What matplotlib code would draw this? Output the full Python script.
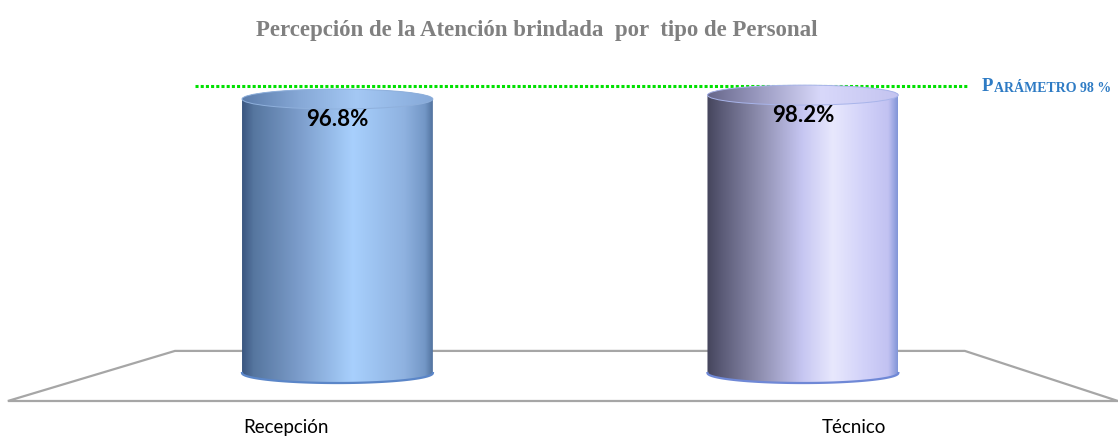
import numpy as np
import matplotlib.pyplot as plt
from matplotlib.path import Path
from matplotlib.patches import PathPatch, Ellipse, Polygon
from matplotlib.colors import to_rgb

categories = ['Recepción', 'Técnico']
values = [96.8, 98.2]
value_labels = ['96.8%', '98.2%']
parametro = 98
title = 'Percepción de la Atención brindada  por  tipo de Personal'

# gradient stops per cylinder (left -> right)
body_stops = [
    [(0.0, '#3a5680'), (0.06, '#56769f'), (0.30, '#7c9dcb'), (0.58, '#a8d0fd'),
     (0.85, '#8fb2e0'), (0.96, '#7397c6'), (1.0, '#52739f')],
    [(0.0, '#45455c'), (0.08, '#5c5c78'), (0.30, '#9494b6'), (0.50, '#c6c6f2'),
     (0.66, '#e8e8fd'), (0.82, '#d2d2f9'), (0.95, '#c2c2f2'), (1.0, '#8296d8')],
]
top_stops = [
    [(0.0, '#5b7cab'), (0.3, '#86a8d6'), (0.6, '#a4c8f4'), (1.0, '#86a9d8')],
    [(0.0, '#66668a'), (0.3, '#a0a0c6'), (0.6, '#d8d8fa'), (1.0, '#c4c4f0')],
]
top_edge = ['#8fb0dc', '#a8b4ea']
edge_cols = ['#5b86c8', '#6f88d6']


def gradient(stops, n=300):
    pos = [p for p, _ in stops]
    cols = np.array([to_rgb(c) for _, c in stops])
    xs = np.linspace(0, 1, n)
    return np.stack([np.interp(xs, pos, cols[:, k]) for k in range(3)], axis=-1)[None, :, :]


fig = plt.figure(figsize=(11.18, 4.37), dpi=100)
ax = fig.add_axes([0, 0, 1, 1])
ax.set_xlim(-0.725, 1.677)
ax.set_ylim(-22.6, 131.8)
ax.axis('off')

bar_w = 0.41
eh = 3.53  # half height of the cylinder ellipses (data units)

# floor
floor = Polygon([(0.007, 0.0824), (0.1565, 0.197), (0.863, 0.197), (1.0, 0.0824)],
                closed=True, fill=False, edgecolor='#a6a6a6', lw=1.6,
                transform=ax.transAxes, zorder=1)
ax.add_patch(floor)

# cylinders
for i, (cat, v) in enumerate(zip(categories, values)):
    cx = i
    hw = bar_w / 2
    t1 = np.linspace(np.pi, 2 * np.pi, 80)
    t2 = np.linspace(0, np.pi, 80)
    xs = np.concatenate([cx + hw * np.cos(t1), cx + hw * np.cos(t2)])
    ys = np.concatenate([eh * np.sin(t1), v + eh * np.sin(t2)])
    verts = np.column_stack([xs, ys])
    verts = np.vstack([verts, verts[:1]])
    codes = [Path.MOVETO] + [Path.LINETO] * (len(verts) - 2) + [Path.CLOSEPOLY]
    shape = PathPatch(Path(verts, codes), facecolor='none', edgecolor='none', zorder=2)
    ax.add_patch(shape)
    im = ax.imshow(gradient(body_stops[i]), extent=[cx - hw, cx + hw, -eh, v + eh],
                   aspect='auto', zorder=2, interpolation='bilinear')
    im.set_clip_path(shape)

    # top face
    top = Ellipse((cx, v), bar_w, 2 * eh, facecolor='none', edgecolor='none', zorder=3)
    ax.add_patch(top)
    im2 = ax.imshow(gradient(top_stops[i]), extent=[cx - hw, cx + hw, v - eh, v + eh],
                    aspect='auto', zorder=3, interpolation='bilinear')
    im2.set_clip_path(top)
    ax.add_patch(Ellipse((cx, v), bar_w, 2 * eh, facecolor='none',
                         edgecolor=top_edge[i], lw=0.7, zorder=4))

    # bottom front edge
    ax.plot(cx + hw * np.cos(t1), eh * np.sin(t1), color=edge_cols[i], lw=1.6, zorder=4)

    # value label
    ax.annotate(value_labels[i], (cx, v), xytext=(0, -15), textcoords='offset points',
                ha='center', va='center', fontsize=16, fontweight='bold',
                family='Lato', color='black', zorder=5)

    # category label on the front edge of the floor (perspective spread)
    lx = 0.5 + (cx - 0.5) * 1.22
    ax.text(lx, -19.1, cat, ha='center', va='center', fontsize=13.5,
            family='Lato', color='black')

# parameter line
ax.axhline(parametro + eh, xmin=0.174, xmax=0.866, color='#00e000', lw=2.2,
           linestyle=(0, (1, 0.7)), zorder=1)
p = ax.text(0.878, parametro + eh - 0.3, 'P', transform=ax.get_yaxis_transform(),
            ha='left', va='center', fontsize=13.5, fontweight='bold',
            family='Liberation Serif', color='#2e7bc4')
ax.annotate('ARÁMETRO 98 %', xy=(1, 0), xycoords=p, xytext=(0.5, 0.2),
            textcoords='offset points', ha='left', va='bottom', fontsize=10,
            fontweight='bold', family='Liberation Serif', color='#2e7bc4')

fig.text(0.480, 0.931, title, ha='center', va='center', fontsize=16.5,
         fontweight='bold', family='Liberation Serif', color='#808080')

fig.savefig('out.png', dpi=100)
